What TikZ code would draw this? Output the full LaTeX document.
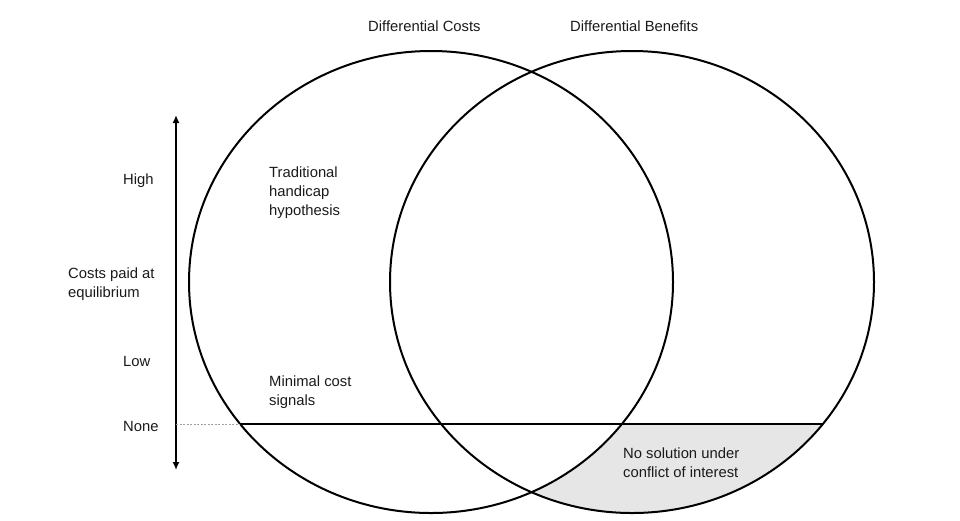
\documentclass[tikz,border=0pt]{standalone}
\usepackage{fontspec}
\setmainfont{Liberation Sans}
\usetikzlibrary{arrows.meta}
\definecolor{txt}{HTML}{1A1A1A}
\definecolor{regiongray}{HTML}{E6E6E6}
\definecolor{guide}{HTML}{A0A0A0}
\begin{document}
\begin{tikzpicture}[x=1pt,y=-1pt,
  lbl/.style={anchor=base west,inner sep=0pt,align=left,text=txt,font=\fontsize{14.8}{19}\selectfont},
  ring/.style={draw=black,line width=2pt},
  levelline/.style={draw=black,line width=2.4pt},
  guideline/.style={draw=guide,line width=0.6pt,dash pattern=on 2pt off 1.5pt},
  axis/.style={draw=black,line width=2.4pt,{Latex[length=8pt,width=7pt]}-{Latex[length=8pt,width=7pt]}}
]
\useasboundingbox (0,0) rectangle (960,520);
% shaded region: inside right, outside left, below line
\begin{scope}
  \clip (0,424) rectangle (960,520);
  \clip (632,282) ellipse [x radius=242, y radius=231];
  \fill[fill=regiongray, even odd rule] (0,0) rectangle (960,520) (431,282) ellipse [x radius=242, y radius=231];
\end{scope}
% circles
\draw[ring] (431,282) ellipse [x radius=242, y radius=231];
\draw[ring] (632,282) ellipse [x radius=242, y radius=231];
% level line
\coordinate (lineL) at (240.1,424);
\coordinate (lineR) at (822.9,424);
\draw[levelline] (lineL) -- (lineR);
% axis
\coordinate (axTop) at (176,115);
\coordinate (axBot) at (176,470);
\coordinate (axNone) at (176,424);
\draw[axis] (axTop) -- (axBot);
\draw[guideline] (axNone) -- (lineL);
% labels (base anchor = baseline of last line)
\node[lbl] (costs) at (368,31) {Differential Costs};
\node[lbl] (benefits) at (570,31) {Differential Benefits};
\node[lbl] (high) at (123,184) {High};
\node[lbl] (paid) at (68,297) {Costs paid at\\equilibrium};
\node[lbl] (low) at (123,366) {Low};
\node[lbl] (none) at (123,431) {None};
\node[lbl] (trad) at (269,215) {Traditional\\handicap\\hypothesis};
\node[lbl] (minimal) at (269,405) {Minimal cost\\signals};
\node[lbl] (nosol) at (623,477) {No solution under\\conflict of interest};
\end{tikzpicture}
\end{document}
